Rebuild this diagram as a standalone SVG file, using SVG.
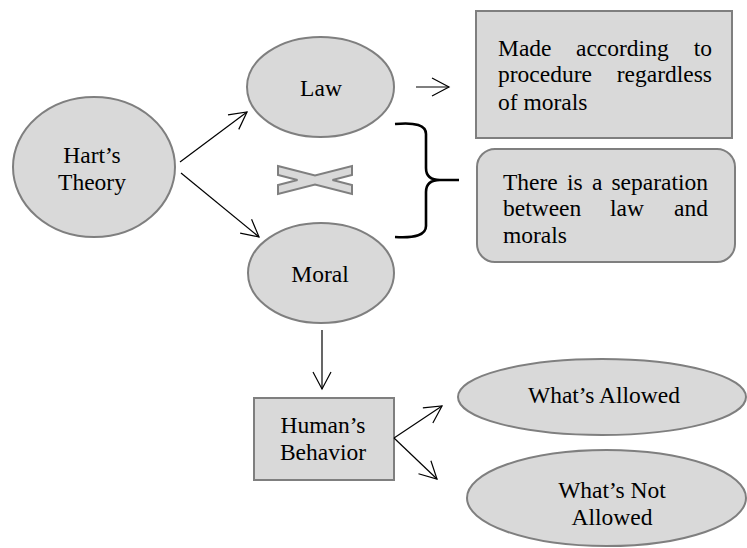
<svg xmlns="http://www.w3.org/2000/svg" width="747" height="548" viewBox="0 0 747 548" font-family="Liberation Serif" font-size="23.5">
<style>
.n{fill:#d9d9d9;stroke:#7f7f7f;stroke-width:2}
.c{text-anchor:middle}
.e{text-anchor:end}
.l{fill:none;stroke:#000;stroke-width:1.2}
</style>
<defs>
<marker id="ah" markerUnits="userSpaceOnUse" orient="auto" overflow="visible" markerWidth="1" markerHeight="1" refX="0" refY="0">
<path d="M-17,-9 L0,0 L-17,9" fill="none" stroke="#000" stroke-width="1.2"/>
</marker>
</defs>
<rect width="747" height="548" fill="#fff"/>

<g id="harts-theory">
<ellipse class="n" cx="94" cy="167" rx="81" ry="70"/>
<text class="c" x="92" y="163">Hart’s</text>
<text class="c" x="92" y="190">Theory</text>
</g>

<g id="law">
<ellipse class="n" cx="320.5" cy="87" rx="73.5" ry="50"/>
<text class="c" x="321" y="96">Law</text>
</g>

<g id="moral">
<ellipse class="n" cx="321" cy="273" rx="73" ry="50"/>
<text class="c" x="320" y="282">Moral</text>
</g>

<g id="made-according">
<rect class="n" x="476" y="11" width="256" height="127"/>
<text x="498" y="56">Made</text>
<text x="576" y="56">according</text>
<text class="e" x="712" y="56">to</text>
<text x="498" y="82">procedure</text>
<text class="e" x="712" y="82">regardless</text>
<text x="498" y="110">of morals</text>
</g>

<g id="separation">
<rect class="n" x="477" y="149" width="258" height="113" rx="18" ry="18"/>
<text x="503" y="190">There</text>
<text x="567" y="190">is</text>
<text x="592" y="190">a</text>
<text class="e" x="708" y="190">separation</text>
<text x="503" y="216">between</text>
<text x="610" y="216">law</text>
<text class="e" x="708" y="216">and</text>
<text x="503" y="243">morals</text>
</g>

<g id="not-equal">
<polygon class="n" stroke-width="1.8" points="278,166 315,175.5 352,166 352,175 332.5,180 352,185 352,194 315,184.5 278,194 278,185 297.5,180 278,175"/>
</g>

<g id="humans-behavior">
<rect class="n" x="254" y="398" width="140" height="82"/>
<text class="c" x="323" y="433">Human’s</text>
<text class="c" x="323" y="460">Behavior</text>
</g>

<g id="whats-allowed">
<ellipse class="n" cx="602" cy="397" rx="144" ry="38"/>
<text class="c" x="604" y="403">What’s Allowed</text>
</g>

<g id="whats-not-allowed">
<ellipse class="n" cx="606.5" cy="498" rx="139.5" ry="48"/>
<text class="c" x="612" y="498">What’s Not</text>
<text class="c" x="612" y="525">Allowed</text>
</g>

<g id="connectors">
<line class="l" x1="180" y1="162" x2="247" y2="112" marker-end="url(#ah)"/>
<line class="l" x1="181" y1="173" x2="259" y2="237" marker-end="url(#ah)"/>
<line class="l" x1="416" y1="87" x2="449" y2="87" marker-end="url(#ah)"/>
<line class="l" x1="322" y1="330" x2="322" y2="389" marker-end="url(#ah)"/>
<line class="l" x1="394" y1="438" x2="442" y2="406" marker-end="url(#ah)"/>
<line class="l" x1="394" y1="438" x2="437" y2="479" marker-end="url(#ah)"/>
<path d="M395,124 Q426,121 426,134 L426,168 Q426,180 440,180 L459,180 M440,180 Q426,180 426,192 L426,226 Q426,239 395,237" fill="none" stroke="#000" stroke-width="2.6"/>
</g>
</svg>
